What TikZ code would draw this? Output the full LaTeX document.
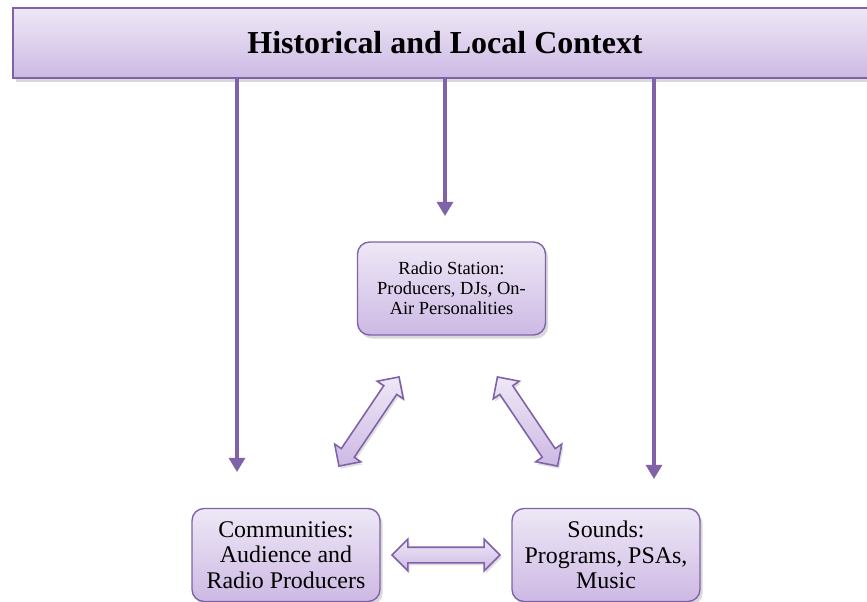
\documentclass[tikz,border=0pt]{standalone}
\usepackage{fontspec}
\setmainfont{Liberation Serif}
\usetikzlibrary{shapes.arrows, arrows.meta, shadows}
\definecolor{ctxpurple}{HTML}{7F62A8}
\definecolor{ctxlight}{HTML}{EEE8F6}
\definecolor{ctxdark}{HTML}{CDB9E4}

\begin{document}
\begin{tikzpicture}[x=0.02cm, y=-0.02cm]
\tikzstyle{ctx} = [rectangle, minimum width=17.28cm, minimum height=1.4cm, text centered, draw=ctxpurple, line width=0.8pt, top color=ctxlight, bottom color=ctxdark, drop shadow={opacity=0.3, shadow xshift=1.5pt, shadow yshift=-2pt}]
\tikzstyle{actor} = [rectangle, rounded corners=0.24cm, minimum width=3.76cm, minimum height=1.86cm, align=center, draw=ctxpurple, line width=0.8pt, top color=ctxlight, bottom color=ctxdark, drop shadow={opacity=0.3, shadow xshift=1.5pt, shadow yshift=-2pt}]
\tikzstyle{link} = [double arrow, double arrow head extend=0.16cm, minimum width=0.6cm, minimum height=2.15cm, inner xsep=0pt, inner ysep=0.14cm, draw=ctxpurple, line width=0.9pt, top color=ctxlight, bottom color=ctxdark, drop shadow={opacity=0.25, shadow xshift=1pt, shadow yshift=-1.5pt}]
\tikzstyle{feed} = [draw=ctxpurple, line width=2.3pt, -{Triangle[width=9pt,length=8pt]}]

\useasboundingbox (0,0) rectangle (867,602);

\node (context) [ctx, font=\fontsize{18.2}{21}\selectfont\bfseries] at (445,43) {Historical and Local Context};

\node (station) [actor, font=\fontsize{10.5}{11.4}\selectfont] at (451.5,288.5) {Radio Station:\\Producers, DJs, On-\\Air Personalities};
\node (community) [actor, font=\fontsize{13.6}{14.4}\selectfont] at (286,555) {Communities:\\Audience and\\Radio Producers};
\node (sounds) [actor, font=\fontsize{13.6}{14.4}\selectfont] at (606,555) {Sounds:\\Programs, PSAs,\\Music};

\node (linkleft) [link, rotate=56] at (369,421.5) {};
\node (linkright) [link, rotate=-56] at (527.5,421.5) {};
\node (linkbottom) [link, minimum height=2.16cm] at (446,555) {};

\coordinate (tipleft) at (237,472);
\coordinate (tipmid) at (445,216);
\coordinate (tipright) at (654,479);

\draw [feed] (context.south -| tipleft) -- (tipleft);
\draw [feed] (context.south -| tipmid) -- (tipmid);
\draw [feed] (context.south -| tipright) -- (tipright);

\end{tikzpicture}
\end{document}
